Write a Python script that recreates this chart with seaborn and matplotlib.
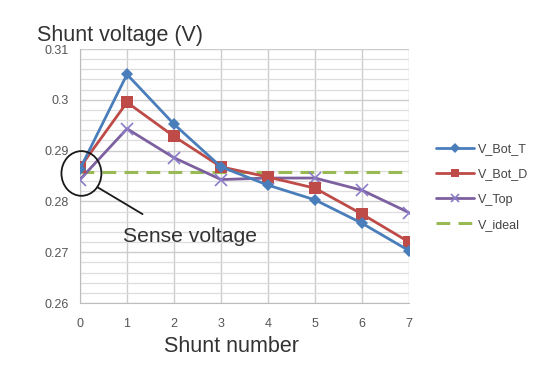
import pandas as pd
import matplotlib.pyplot as plt
import seaborn as sns
from matplotlib.patches import Ellipse
from matplotlib.ticker import MultipleLocator

# shunt voltages
shunt = [0, 1, 2, 3, 4, 5, 6, 7]
v_bot_t = [0.2864, 0.3050, 0.2952, 0.2868, 0.2832, 0.2803, 0.2757, 0.2703]
v_bot_d = [0.2867, 0.2995, 0.2928, 0.2868, 0.2848, 0.2826, 0.2775, 0.2720]
v_top = [0.2843, 0.2943, 0.2886, 0.2843, 0.2846, 0.2846, 0.2822, 0.2778]
v_ideal = [0.2857] * 8
y_ticks = [0.26, 0.27, 0.28, 0.29, 0.30, 0.31]
y_labels = ["0.26", "0.27", "0.28", "0.29", "0.3", "0.31"]

df = pd.DataFrame({"shunt": shunt, "V_Bot_T": v_bot_t, "V_Bot_D": v_bot_d,
                   "V_Top": v_top, "V_ideal": v_ideal})

sns.set_style("white")
plt.rcParams['font.family'] = ['Liberation Sans', 'DejaVu Sans']

fig = plt.figure(figsize=(5.54, 3.70), dpi=100)
ax = fig.add_axes([80 / 554, 1 - 303 / 370, 329 / 554, 254 / 370])

sns.lineplot(data=df, x="shunt", y="V_ideal", ax=ax, color="#98b954", lw=2.2,
             linestyle=(0, (4.5, 2.7)), label="V_ideal", zorder=2)
sns.lineplot(data=df, x="shunt", y="V_Top", ax=ax, color="#7d60a0", lw=2,
             marker="x", markersize=8, markeredgewidth=1.2, markeredgecolor="#8a7cc8",
             label="V_Top", zorder=3)
sns.lineplot(data=df, x="shunt", y="V_Bot_D", ax=ax, color="#be4b48", lw=2,
             marker="s", markersize=8, markeredgewidth=0, label="V_Bot_D", zorder=4)
sns.lineplot(data=df, x="shunt", y="V_Bot_T", ax=ax, color="#4a7ebb", lw=2,
             marker="D", markersize=6, markeredgewidth=0, label="V_Bot_T", zorder=5)

ax.set_xlim(0, 7)
ax.set_ylim(0.26, 0.31)
ax.set_xticks(shunt)
ax.set_yticks(y_ticks, y_labels)
ax.yaxis.set_minor_locator(MultipleLocator(0.002))
ax.grid(True, which="major", color="#cccccc", lw=1)
ax.grid(True, which="minor", axis="y", color="#dddddd", lw=0.9)
ax.set_axisbelow(True)
for s in ["top", "right"]:
    ax.spines[s].set_visible(False)
for s in ["left", "bottom"]:
    ax.spines[s].set_color("#bdbdbd")
ax.tick_params(axis="both", which="major", length=4, color="#bdbdbd",
               labelsize=9, labelcolor="#555555")
ax.tick_params(axis="x", pad=7)
ax.tick_params(axis="y", pad=4)
ax.tick_params(axis="y", which="minor", length=0)
ax.set_ylabel("")
ax.set_xlabel("Shunt number", fontsize=15.5, color="#333333")
ax.xaxis.set_label_coords(0.459, -0.13)

fig.text(37 / 554, 1 - 41 / 370, "Shunt voltage (V)", fontsize=15.5, color="#333333")

# "Sense voltage" callout
ax.add_patch(Ellipse((0.03, 0.2855), width=0.85, height=0.0088, fill=False,
                     ec="#1a1a1a", lw=1.3, clip_on=False, zorder=6))
ax.plot([0.37, 1.33], [0.2828, 0.2775], color="#1a1a1a", lw=1.3, zorder=6)
ax.text(0.92, 0.2720, "Sense voltage", fontsize=15.2, color="#333333", va="baseline")

handles, labels = ax.get_legend_handles_labels()
order = [3, 2, 1, 0]
ax.legend([handles[i] for i in order], [labels[i] for i in order],
          loc="upper left", bbox_to_anchor=(425 / 554, 1 - 132 / 370),
          bbox_transform=fig.transFigure, frameon=False, fontsize=9,
          labelcolor="#444444", handlelength=3, labelspacing=1.05, handletextpad=0.3,
          markerscale=0.8)

fig.savefig("out.png", dpi=100)
